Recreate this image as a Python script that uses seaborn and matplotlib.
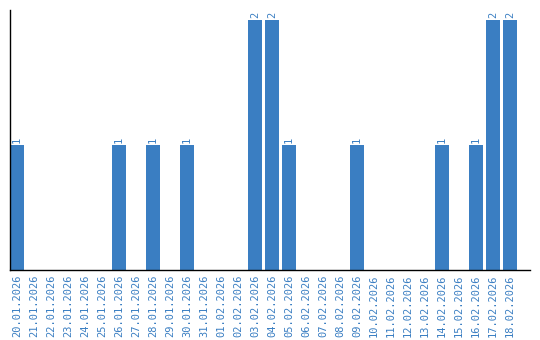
import matplotlib
matplotlib.use("Agg")
import matplotlib.pyplot as plt
import seaborn as sns
import pandas as pd

dates = ["20.01.2026", "21.01.2026", "22.01.2026", "23.01.2026", "24.01.2026",
         "25.01.2026", "26.01.2026", "27.01.2026", "28.01.2026", "29.01.2026",
         "30.01.2026", "31.01.2026", "01.02.2026", "02.02.2026", "03.02.2026",
         "04.02.2026", "05.02.2026", "06.02.2026", "07.02.2026", "08.02.2026",
         "09.02.2026", "10.02.2026", "11.02.2026", "12.02.2026", "13.02.2026",
         "14.02.2026", "15.02.2026", "16.02.2026", "17.02.2026", "18.02.2026"]
counts = [1, 0, 0, 0, 0, 0, 1, 0, 1, 0,
          1, 0, 0, 0, 2, 2, 1, 0, 0, 0,
          1, 0, 0, 0, 0, 1, 0, 1, 2, 2]

df = pd.DataFrame({"date": dates, "count": counts})
blue = "#3a7ec2"

sns.set_theme(style="white")
fig = plt.figure(figsize=(5.4, 3.4), dpi=100)
ax = fig.add_axes([10/540, 70/340, 520/540, 260/340])
sns.barplot(data=df, x="date", y="count", color=blue, saturation=1,
            width=0.82, linewidth=0, edgecolor=blue, ax=ax)

for i, v in enumerate(counts):
    if v > 0:
        ax.text(i, v + 0.015, str(v), rotation=90, ha="center", va="bottom",
                color=blue, fontsize=7.5, family="DejaVu Sans Mono")

ax.set_xlim(-0.41, 30.18)
ax.set_ylim(0, 2.08)
ax.set_xlabel("")
ax.set_ylabel("")
ax.set_yticks([])
ax.tick_params(axis="x", length=0, pad=3)
ax.set_xticks(range(len(dates)))
ax.set_xticklabels(dates, rotation=90, color=blue, fontsize=7.5,
                   family="DejaVu Sans Mono")
for s in ["top", "right"]:
    ax.spines[s].set_visible(False)
for s in ["left", "bottom"]:
    ax.spines[s].set_visible(True)
    ax.spines[s].set_color("black")
    ax.spines[s].set_linewidth(1)

fig.savefig("out.png", dpi=100)
